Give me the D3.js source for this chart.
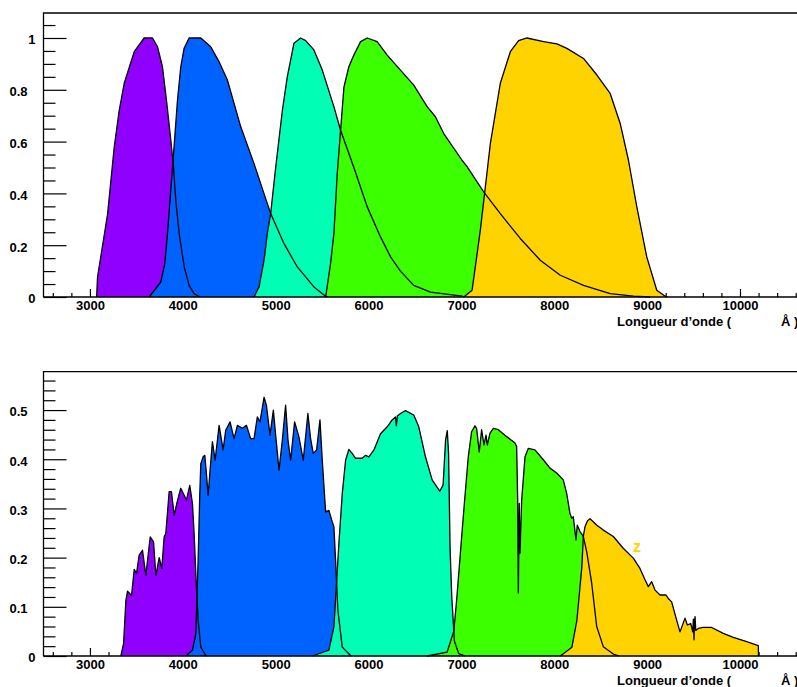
<!DOCTYPE html>
<html><head><meta charset="utf-8">
<script src="https://cdn.jsdelivr.net/npm/d3@7/dist/d3.min.js"></script>
<style>
body{margin:0;background:#fff}
svg{display:block}
text{font-family:"Liberation Sans",Arial,Helvetica,sans-serif;font-weight:bold;font-size:13px;fill:#000}
</style>
</head><body>
<svg id="chart" width="797" height="687"></svg>
<script>
// ---------- data ----------
const bandNames = ["u", "g", "r", "i", "z"];
const bandColors = ["#8f00ff", "#0062ff", "#00ffb4", "#3cff00", "#ffd300"];

const xMajorTicks = [3000, 4000, 5000, 6000, 7000, 8000, 9000, 10000];
const topYMajorTicks = [0, 0.2, 0.4, 0.6, 0.8, 1];
const bottomYMajorTicks = [0, 0.1, 0.2, 0.3, 0.4, 0.5];
const axisTitle = "Longueur d\u2019onde (";
const axisUnit = "\u00c5 )";

// Top panel: normalized filter transmission [wavelength (Å), value]
const topU = [[3072,0],[3082,0.077],[3190,0.32],[3262,0.58],[3315,0.72],[3369,0.825],[3477,0.947],[3584,1.0],[3674,1.0],[3728,0.966],[3781,0.889],[3824,0.76],[3871,0.606],[3900,0.50],[3925,0.37],[3961,0.245],[4015,0.116],[4068,0.045],[4122,0.013],[4183,0]];
const topG = [[3638,0],[3763,0.058],[3806,0.129],[3835,0.245],[3889,0.50],[3943,0.76],[3978,0.889],[4014,0.96],[4068,1.0],[4122,1.0],[4194,1.0],[4301,0.966],[4391,0.908],[4480,0.838],[4624,0.657],[4767,0.515],[4946,0.322],[5090,0.206],[5233,0.116],[5412,0.039],[5538,0.003],[5560,0]];
const topR = [[4767,0],[4821,0.039],[4875,0.142],[4910,0.245],[4946,0.322],[5000,0.50],[5072,0.72],[5125,0.85],[5161,0.915],[5197,0.98],[5269,1.0],[5323,0.99],[5412,0.954],[5502,0.876],[5627,0.735],[5699,0.644],[5842,0.50],[5986,0.348],[6129,0.232],[6237,0.155],[6344,0.100],[6487,0.045],[6667,0.019],[7007,0.003],[7030,0]];
const topI = [[5538,0],[5591,0.129],[5627,0.245],[5663,0.477],[5699,0.644],[5735,0.81],[5788,0.889],[5842,0.934],[5914,0.986],[5986,1.0],[6093,0.986],[6201,0.934],[6344,0.876],[6487,0.818],[6631,0.735],[6720,0.696],[6810,0.631],[7007,0.528],[7061,0.503],[7240,0.406],[7419,0.322],[7634,0.226],[7849,0.142],[8065,0.084],[8315,0.045],[8602,0.013],[8853,0.003],[9032,0]];
const topZ = [[7025,0],[7115,0.026],[7204,0.258],[7312,0.593],[7419,0.825],[7527,0.947],[7616,0.99],[7706,1.0],[7885,0.986],[8029,0.977],[8136,0.96],[8315,0.921],[8459,0.857],[8602,0.786],[8710,0.67],[8799,0.528],[8889,0.348],[8996,0.155],[9104,0.026],[9194,0.003],[9220,0]];

// Bottom panel: total throughput [wavelength (Å), value]
const botU = [[3333,0],[3362,0.025],[3387,0.113],[3405,0.132],[3448,0.123],[3477,0.176],[3502,0.168],[3530,0.205],[3566,0.215],[3602,0.164],[3649,0.242],[3685,0.232],[3710,0.164],[3746,0.20],[3774,0.178],[3799,0.242],[3817,0.249],[3853,0.334],[3878,0.334],[3907,0.286],[3935,0.31],[3978,0.341],[4007,0.33],[4039,0.317],[4075,0.347],[4104,0.31],[4122,0.249],[4140,0.168],[4165,0.073],[4194,0.018],[4247,0.001],[4260,0]];
const botG = [[4032,0],[4104,0.012],[4140,0.045],[4165,0.195],[4183,0.33],[4194,0.391],[4219,0.405],[4237,0.408],[4251,0.378],[4273,0.327],[4294,0.378],[4319,0.436],[4348,0.398],[4391,0.469],[4434,0.419],[4462,0.459],[4509,0.476],[4552,0.442],[4588,0.469],[4642,0.463],[4685,0.469],[4731,0.442],[4767,0.442],[4803,0.486],[4831,0.476],[4875,0.526],[4900,0.51],[4939,0.449],[4975,0.50],[5000,0.449],[5036,0.378],[5072,0.439],[5107,0.51],[5133,0.439],[5161,0.398],[5204,0.476],[5250,0.446],[5297,0.398],[5347,0.493],[5376,0.442],[5405,0.412],[5441,0.419],[5477,0.48],[5502,0.398],[5538,0.293],[5573,0.296],[5609,0.273],[5627,0.263],[5645,0.195],[5670,0.093],[5717,0.018],[5806,0.001],[5820,0]];
const botR = [[5394,0],[5573,0.012],[5627,0.059],[5681,0.229],[5717,0.33],[5753,0.398],[5788,0.42],[5824,0.412],[5860,0.402],[5932,0.402],[5968,0.408],[6004,0.405],[6058,0.419],[6129,0.452],[6201,0.466],[6254,0.48],[6290,0.486],[6300,0.468],[6310,0.488],[6344,0.493],[6398,0.499],[6487,0.49],[6541,0.466],[6613,0.405],[6685,0.358],[6767,0.335],[6803,0.348],[6830,0.440],[6848,0.458],[6862,0.412],[6878,0.220],[6896,0.121],[6925,0.030],[6971,0.005],[7043,0]];
const botI = [[6631,0],[6846,0.008],[6918,0.050],[6949,0.114],[7020,0.283],[7074,0.405],[7110,0.456],[7146,0.468],[7164,0.463],[7192,0.415],[7218,0.46],[7243,0.429],[7265,0.449],[7279,0.429],[7308,0.453],[7344,0.463],[7398,0.46],[7488,0.446],[7577,0.433],[7595,0.426],[7606,0.317],[7613,0.128],[7623,0.31],[7631,0.209],[7649,0.317],[7685,0.405],[7720,0.422],[7792,0.419],[7882,0.399],[7954,0.382],[8026,0.372],[8097,0.358],[8133,0.331],[8169,0.29],[8188,0.28],[8205,0.283],[8234,0.236],[8248,0.266],[8277,0.253],[8313,0.243],[8351,0.210],[8403,0.148],[8457,0.060],[8528,0.019],[8636,0.004],[8700,0]];
const botZ = [[8065,0],[8190,0.018],[8244,0.073],[8297,0.181],[8313,0.243],[8331,0.263],[8358,0.275],[8385,0.279],[8459,0.266],[8528,0.256],[8636,0.243],[8743,0.219],[8851,0.199],[8923,0.178],[8977,0.155],[9013,0.141],[9049,0.151],[9085,0.134],[9139,0.124],[9203,0.124],[9228,0.117],[9264,0.11],[9318,0.073],[9354,0.049],[9408,0.077],[9433,0.063],[9469,0.066],[9480,0.058],[9491,0.049],[9498,0.075],[9505,0.033],[9510,0.070],[9516,0.080],[9524,0.052],[9551,0.056],[9600,0.058],[9695,0.058],[9820,0.046],[9928,0.038],[10072,0.029],[10197,0.021],[10200,0]];

const topSeries = [topU, topG, topR, topI, topZ];
const botSeries = [botU, botG, botR, botI, botZ];

// ---------- drawing ----------
const svg = d3.select("#chart");

function panel(cfg) {
  const g = svg.append("g");
  const x = d3.scaleLinear().domain([2500, 10700]).range([43.5, 805]);
  const y = d3.scaleLinear().domain([0, cfg.yMax]).range([cfg.bottom, cfg.top]);

  // frame (top and left lines)
  g.append("path")
    .attr("d", `M${x.range()[1]},${cfg.top}H${x.range()[0]}V${cfg.bottom}`)
    .attr("fill", "none").attr("stroke", "#000").attr("stroke-width", 1.3);

  // x minor / major ticks (inside, upward)
  const xMinor = d3.range(2600, 10800, 200).filter(v => !xMajorTicks.includes(v));
  const xMinorAxis = g.append("g").attr("transform", `translate(0,${cfg.bottom})`)
    .call(d3.axisBottom(x).tickValues(xMinor).tickSize(-4).tickFormat(""));
  const xMajorAxis = g.append("g").attr("transform", `translate(0,${cfg.bottom})`)
    .call(d3.axisBottom(x).tickValues(xMajorTicks).tickSize(-8).tickPadding(4).tickFormat(d3.format("d")));
  [xMinorAxis, xMajorAxis].forEach(a => { a.attr("font-size", null).attr("font-family", null); a.select(".domain").remove(); a.selectAll("line").attr("stroke-width", 1.2); });

  // y minor / major ticks (inside, rightward)
  const yMinor = d3.range(0, cfg.yMax + 1e-9, cfg.yMinorStep).map(v => +v.toFixed(4))
    .filter(v => !cfg.yMajor.some(m => Math.abs(m - v) < 1e-6));
  const yMinorAxis = g.append("g").attr("transform", `translate(${x.range()[0]},0)`)
    .call(d3.axisLeft(y).tickValues(yMinor).tickSize(-12).tickFormat(""));
  const yMajorAxis = g.append("g").attr("transform", `translate(${x.range()[0]},0)`)
    .call(d3.axisLeft(y).tickValues(cfg.yMajor).tickSize(-23).tickPadding(8).tickFormat(d => d3.format("")(d)));
  [yMinorAxis, yMajorAxis].forEach(a => { a.attr("font-size", null).attr("font-family", null); a.select(".domain").remove(); a.selectAll("line").attr("stroke-width", 1.2); });
  yMajorAxis.selectAll("text").attr("dy", "0.45em")
    .attr("dx", d => Number.isInteger(d) ? 0 : -8);

  // fills (later bands drawn on top)
  const area = d3.area().x(d => x(d[0])).y0(y(0)).y1(d => y(d[1]));
  const line = d3.line().x(d => x(d[0])).y(d => y(d[1]));
  g.selectAll("path.fill").data(cfg.series).join("path")
    .attr("class", "fill")
    .attr("d", area)
    .attr("fill", (d, i) => bandColors[i]);
  // outlines
  g.selectAll("path.outline").data(cfg.series).join("path")
    .attr("class", "outline")
    .attr("d", line)
    .attr("fill", "none").attr("stroke", "#000").attr("stroke-width", 1.3)
    .attr("stroke-linejoin", "round");

  // x axis baseline
  g.append("line")
    .attr("x1", x.range()[0]).attr("x2", x.range()[1])
    .attr("y1", cfg.bottom).attr("y2", cfg.bottom)
    .attr("stroke", "#000").attr("stroke-width", 1.5);

  // axis title
  g.append("text").attr("x", 617).attr("y", cfg.bottom + 28.5).text(axisTitle);
  g.append("text").attr("x", 781).attr("y", cfg.bottom + 28.5).text(axisUnit);
  return {g, x, y};
}

panel({top: 13, bottom: 297, yMax: 1.0965, yMajor: topYMajorTicks, yMinorStep: 0.05, series: topSeries});
const bp = panel({top: 371.7, bottom: 656, yMax: 0.578, yMajor: bottomYMajorTicks, yMinorStep: 0.02, series: botSeries});

// band label in lower panel
bp.g.append("text")
  .attr("x", bp.x(8890)).attr("y", bp.y(0.2115))
  .attr("text-anchor", "middle")
  .style("fill", bandColors[4])
  .style("font-size", "16px")
  .text(bandNames[4]);
</script>
</body></html>
